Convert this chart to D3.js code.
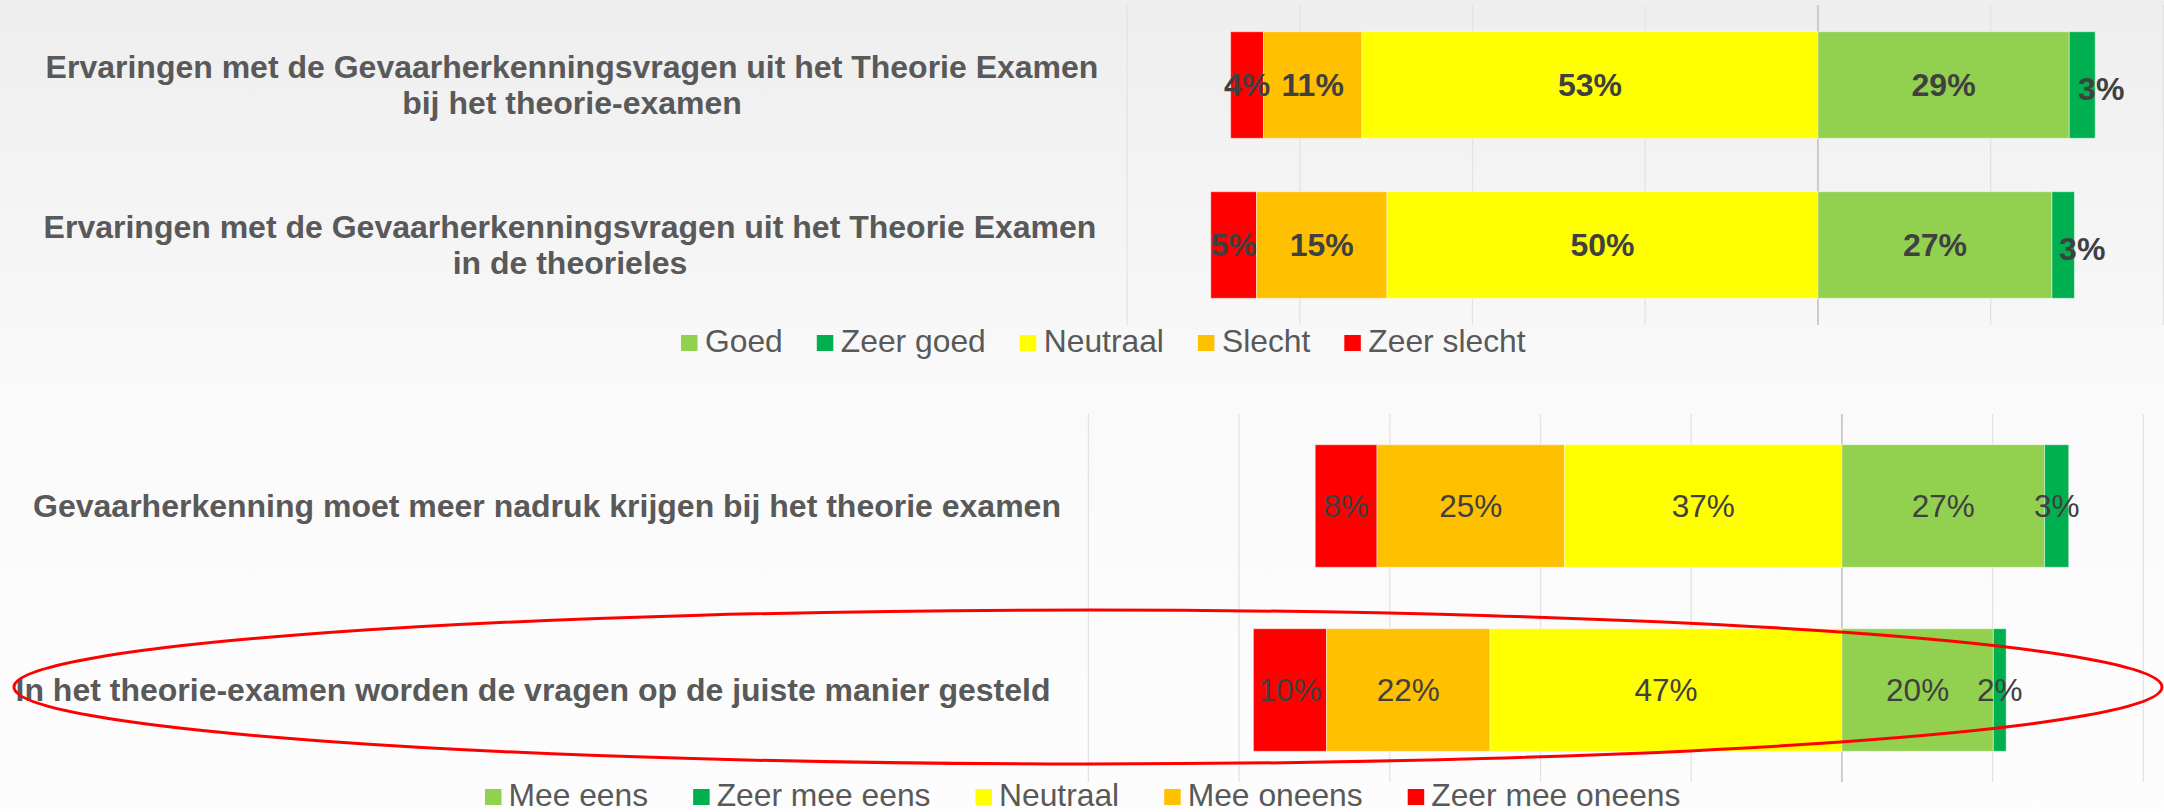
<!DOCTYPE html>
<html>
<head>
<meta charset="utf-8">
<script src="https://cdn.jsdelivr.net/npm/d3@7"></script>
<style>
  html, body { margin: 0; padding: 0; overflow: hidden; background: #fff; }
  svg { display: block; }
</style>
</head>
<body>
<svg id="chart" width="2164" height="812"></svg>
<script>
// ---- data: upper chart (Goed .. Zeer slecht) ----
const topCategories = [
  ["Ervaringen met de Gevaarherkenningsvragen uit het Theorie Examen", "bij het theorie-examen"],
  ["Ervaringen met de Gevaarherkenningsvragen uit het Theorie Examen", "in de theorieles"]
]
const topZeerSlecht = [3.8, 5.3]
const topSlecht = [11.4, 15.1]
const topNeutraal = [52.8, 49.9]
const topGoed = [29.1, 27.1]
const topZeerGoed = [3.0, 2.6]
const topLegend = ["Goed", "Zeer goed", "Neutraal", "Slecht", "Zeer slecht"]
const topTicks = [-80, -60, -40, -20, 0, 20, 40]

// ---- data: lower chart (Mee eens .. Zeer mee oneens) ----
const bottomCategories = [
  ["Gevaarherkenning moet meer nadruk krijgen bij het theorie examen"],
  ["In het theorie-examen worden de vragen op de juiste manier gesteld"]
]
const bottomZeerMeeOneens = [8.2, 9.7]
const bottomMeeOneens = [24.9, 21.7]
const bottomNeutraal = [36.8, 46.7]
const bottomMeeEens = [26.9, 20.1]
const bottomZeerMeeEens = [3.2, 1.7]
const bottomLegend = ["Mee eens", "Zeer mee eens", "Neutraal", "Mee oneens", "Zeer mee oneens"]
const bottomTicks = [-100, -80, -60, -40, -20, 0, 20, 40]

const RED = "#ff0000", ORANGE = "#ffc000", YELLOW = "#ffff00", LGREEN = "#92d050", DGREEN = "#00b050"
const FONT = "'Liberation Sans', Arial, Helvetica, sans-serif"

const svg = d3.select("#chart")
const W = 2164, H = 812

// background
const defs = svg.append("defs")
const grad = defs.append("linearGradient").attr("id", "bg").attr("x1", 0).attr("y1", 0).attr("x2", 0).attr("y2", 1)
grad.append("stop").attr("offset", 0).attr("stop-color", "#eeeeee")
grad.append("stop").attr("offset", 0.5).attr("stop-color", "#fafafa")
grad.append("stop").attr("offset", 1).attr("stop-color", "#fdfdfd")
svg.append("rect").attr("width", W).attr("height", H).attr("fill", "url(#bg)")

function drawChart(cfg) {
  const g = svg.append("g")
  const x = d3.scaleLinear().domain(d3.extent(cfg.ticks)).range(cfg.xRange)
  const y = d3.scaleBand()
    .domain(cfg.categories.map((_, i) => i))
    .range(cfg.yRange)
    .paddingInner(0.334)
    .paddingOuter(0.167)

  // gridlines
  g.selectAll("line.grid")
    .data(cfg.ticks)
    .join("line")
    .attr("x1", (d) => x(d)).attr("x2", (d) => x(d))
    .attr("y1", cfg.yRange[0]).attr("y2", cfg.yRange[1])
    .attr("stroke", (d) => (d === 0 ? "#bfbfbf" : "#e3e3e3"))
    .attr("stroke-width", (d) => (d === 0 ? 1.5 : 1.3))

  // segments: negatives run left of zero, positives right
  const segs = []
  cfg.categories.forEach((_, i) => {
    const negTotal = d3.sum(cfg.negative, (s) => s.values[i])
    let pos = -negTotal
    for (const s of cfg.negative) {
      segs.push({i, x0: pos, x1: pos + s.values[i], v: s.values[i], color: s.color, nudge: s.nudge})
      pos += s.values[i]
    }
    pos = 0
    for (const s of cfg.positive) {
      segs.push({i, x0: pos, x1: pos + s.values[i], v: s.values[i], color: s.color, nudge: s.nudge})
      pos += s.values[i]
    }
  })

  g.selectAll("rect.seg")
    .data(segs)
    .join("rect")
    .attr("x", (d) => x(d.x0))
    .attr("y", (d) => y(d.i))
    .attr("width", (d) => x(d.x1) - x(d.x0))
    .attr("height", y.bandwidth())
    .attr("fill", (d) => d.color)
    .attr("stroke", "rgba(255,255,255,0.45)")
    .attr("stroke-width", 1)

  g.selectAll("text.val")
    .data(segs)
    .join("text")
    .attr("x", (d) => (x(d.x0) + x(d.x1)) / 2 + (d.nudge ? d.nudge[0] : 0))
    .attr("y", (d) => y(d.i) + y.bandwidth() / 2 + 11 + (d.nudge ? d.nudge[1] : 0))
    .attr("text-anchor", "middle")
    .attr("font-family", FONT)
    .attr("font-size", cfg.valueSize)
    .attr("font-weight", cfg.valueWeight)
    .attr("fill", "#404040")
    .text((d) => `${Math.round(d.v)}%`)

  // category labels
  const lineH = 36.6
  cfg.categories.forEach((lines, i) => {
    const cy = y(i) + y.bandwidth() / 2
    lines.forEach((ln, k) => {
      g.append("text")
        .attr("x", cfg.labelX[i])
        .attr("y", cy + (k - (lines.length - 1) / 2) * lineH + 11)
        .attr("text-anchor", "middle")
        .attr("font-family", FONT)
        .attr("font-size", 32)
        .attr("font-weight", "bold")
        .attr("fill", "#595959")
        .text(ln)
    })
  })

  // legend
  const lg = g.append("g")
  let cx = 0
  cfg.legend.forEach((name) => {
    const item = lg.append("g").attr("transform", `translate(${cx},0)`)
    item.append("rect")
      .attr("x", 0).attr("y", -17).attr("width", 16.5).attr("height", 16)
      .attr("fill", cfg.legendColors[name])
    const t = item.append("text")
      .attr("x", 16.5 + cfg.legendTextGap)
      .attr("y", 0)
      .attr("font-family", FONT)
      .attr("font-size", 31.8)
      .attr("fill", "#595959")
      .text(name)
    cx += 16.5 + cfg.legendTextGap + t.node().getComputedTextLength() + cfg.legendGap
  })
  lg.attr("transform", `translate(${cfg.legendX},${cfg.legendY})`)
}

drawChart({
  categories: topCategories,
  ticks: topTicks,
  xRange: [1127, 2163.4],
  yRange: [5, 325],
  negative: [
    {values: topZeerSlecht, color: RED},
    {values: topSlecht, color: ORANGE},
    {values: topNeutraal, color: YELLOW}
  ],
  positive: [
    {values: topGoed, color: LGREEN},
    {values: topZeerGoed, color: DGREEN, nudge: [19, 4]}
  ],
  valueSize: 32,
  valueWeight: "bold",
  labelX: [572, 570],
  legend: topLegend,
  legendColors: {"Goed": LGREEN, "Zeer goed": DGREEN, "Neutraal": YELLOW, "Slecht": ORANGE, "Zeer slecht": RED},
  legendX: 681,
  legendY: 352,
  legendTextGap: 7.5,
  legendGap: 34
})

drawChart({
  categories: bottomCategories,
  ticks: bottomTicks,
  xRange: [1088.4, 2143.3],
  yRange: [414, 782],
  negative: [
    {values: bottomZeerMeeOneens, color: RED},
    {values: bottomMeeOneens, color: ORANGE},
    {values: bottomNeutraal, color: YELLOW}
  ],
  positive: [
    {values: bottomMeeEens, color: LGREEN},
    {values: bottomZeerMeeEens, color: DGREEN}
  ],
  valueSize: 31.5,
  valueWeight: "normal",
  labelX: [547, 533],
  legend: bottomLegend,
  legendColors: {"Mee eens": LGREEN, "Zeer mee eens": DGREEN, "Neutraal": YELLOW, "Mee oneens": ORANGE, "Zeer mee oneens": RED},
  legendX: 485,
  legendY: 806,
  legendTextGap: 7,
  legendGap: 45
})

// hand-drawn highlight round the last statement
svg.append("ellipse")
  .attr("cx", 1088).attr("cy", 687)
  .attr("rx", 1074).attr("ry", 77)
  .attr("fill", "none")
  .attr("stroke", "#ff0000")
  .attr("stroke-width", 3)
</script>
</body>
</html>
